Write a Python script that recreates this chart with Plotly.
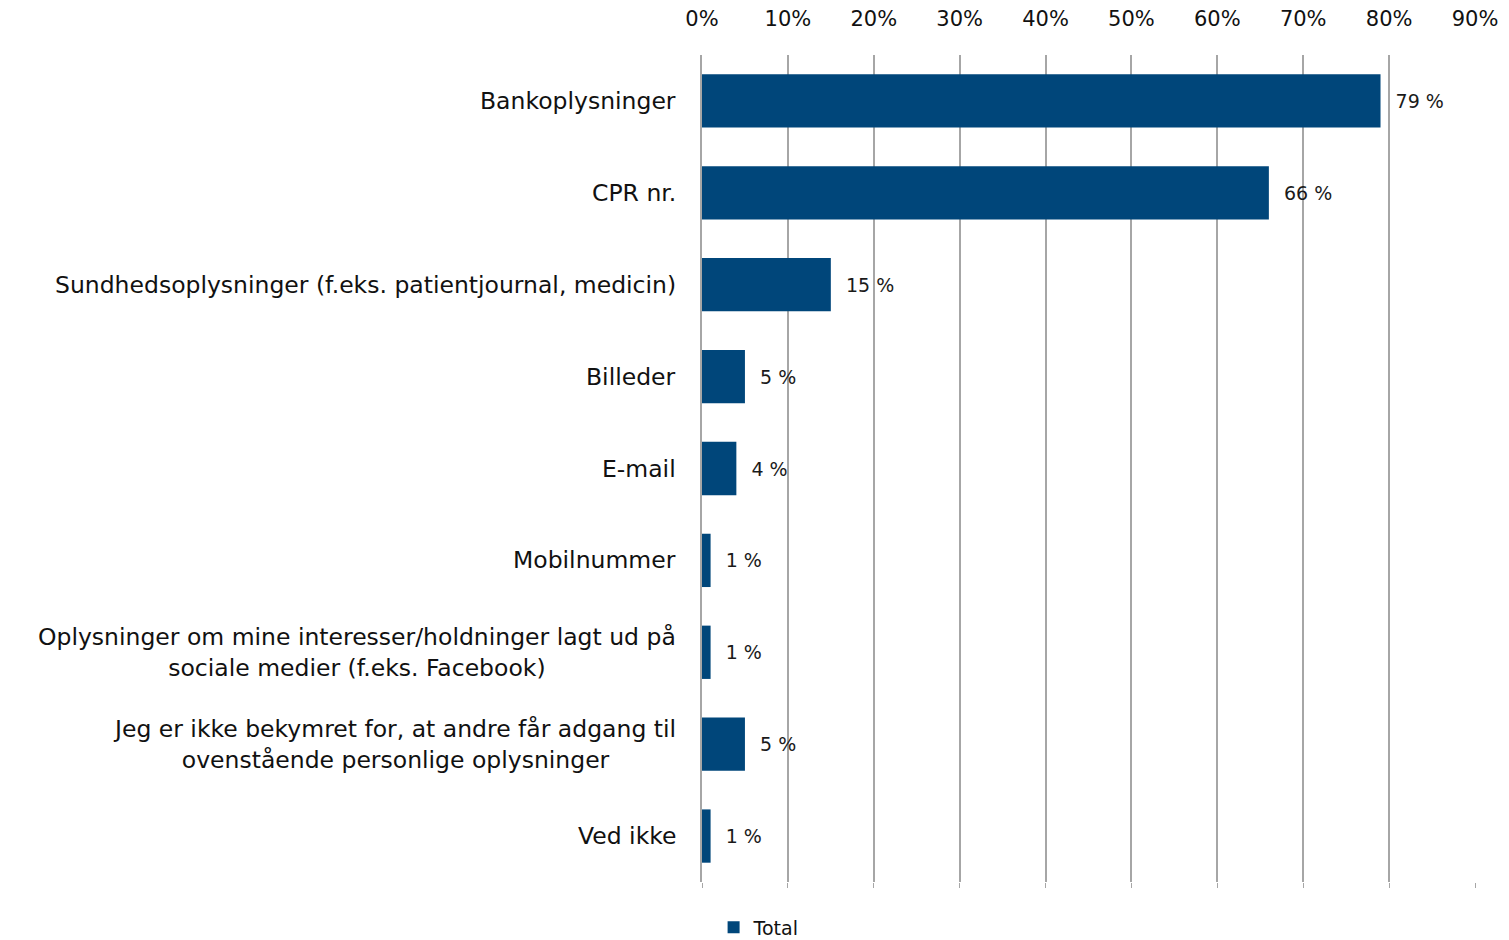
import plotly.graph_objects as go

categories = [
    "Bankoplysninger",
    "CPR nr.",
    "Sundhedsoplysninger (f.eks. patientjournal, medicin)",
    "Billeder",
    "E-mail",
    "Mobilnummer",
    "Oplysninger om mine interesser/holdninger lagt ud på<br>sociale medier (f.eks. Facebook)",
    "Jeg er ikke bekymret for, at andre får adgang til<br>ovenstående personlige oplysninger",
    "Ved ikke",
]
total = [79, 66, 15, 5, 4, 1, 1, 5, 1]

tick_vals = [0, 0.1, 0.2, 0.3, 0.4, 0.5, 0.6, 0.7, 0.8, 0.9]
tick_text = ["0%", "10%", "20%", "30%", "40%", "50%", "60%", "70%", "80%", "90%"]

FONT = "DejaVu Sans"
BLUE = "#00467a"

fig = go.Figure()
fig.add_trace(go.Bar(
    name="Total",
    y=list(range(len(categories))),
    x=[v / 100 for v in total],
    orientation="h",
    marker=dict(color=BLUE, line=dict(width=0)),
    width=0.58,
    text=["\u00a0\u00a0" + f"{v} %" for v in total],
    textposition="outside",
    textfont=dict(family=FONT, size=19, color="#1a1a1a"),
    cliponaxis=False,
))
# dummy trace so the bottom tick axis is drawn
fig.add_trace(go.Scatter(x=[0], y=[0], xaxis="x2", mode="markers",
                         marker=dict(opacity=0), showlegend=False, hoverinfo="skip"))

annotations = []
for i, c in enumerate(categories):
    annotations.append(dict(
        x=0, xref="paper", y=i, yref="y", text=c, showarrow=False,
        xanchor="right", align="center", xshift=-24,
        font=dict(family=FONT, size=23.5, color="#111111"),
    ))

fig.update_layout(
    width=1509, height=940,
    margin=dict(l=694, r=42, t=47, b=66),
    plot_bgcolor="white", paper_bgcolor="white",
    annotations=annotations,
    showlegend=True,
    legend=dict(orientation="h", x=0.015, xref="paper", y=0.022, yref="container",
                xanchor="left", yanchor="middle",
                font=dict(family=FONT, size=19, color="#111111"),
                itemwidth=30),
    xaxis=dict(
        side="top", range=[0, 0.9], tickvals=tick_vals, ticktext=tick_text,
        showgrid=True, gridcolor="#a6a6a6", gridwidth=1.5, zeroline=False,
        showline=False, ticks="", ticklabelstandoff=24, automargin=False,
        tickfont=dict(family=FONT, size=21, color="#111111"),
    ),
    xaxis2=dict(
        overlaying="x", side="bottom", range=[0, 0.9], tickvals=tick_vals,
        showticklabels=False, ticks="outside", ticklen=5, tickcolor="#a6a6a6",
        showgrid=False, zeroline=False, showline=False, automargin=False,
    ),
    yaxis=dict(
        range=[len(categories) - 0.5, -0.5], showticklabels=False,
        showgrid=False, zeroline=False, showline=True, linecolor="#a6a6a6",
        linewidth=1.5, ticks="", automargin=False,
    ),
)

fig.write_html("out.html")
